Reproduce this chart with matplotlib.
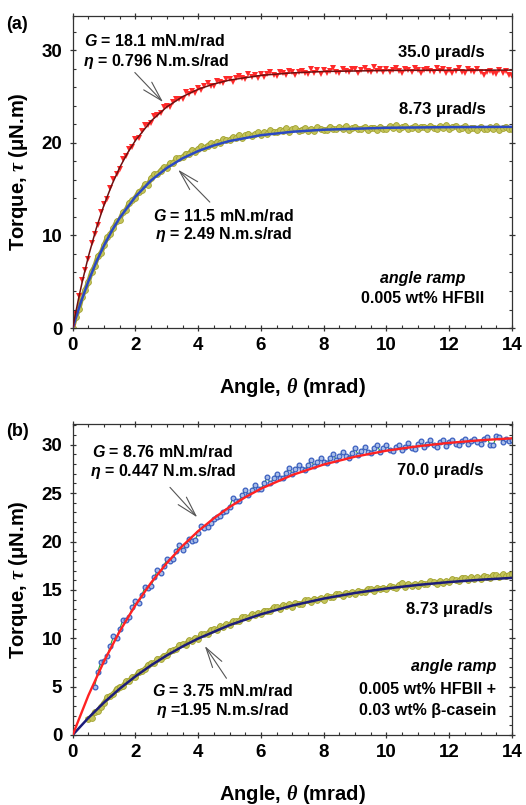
import numpy as np
import matplotlib
matplotlib.use("Agg")
import matplotlib.pyplot as plt
from matplotlib.ticker import MultipleLocator

plt.rcParams['font.family'] = ['Liberation Sans', 'DejaVu Sans']
plt.rcParams['font.weight'] = 'bold'
plt.rcParams['axes.labelweight'] = 'bold'
plt.rcParams['mathtext.fontset'] = 'custom'
plt.rcParams['mathtext.rm'] = 'Liberation Sans:bold'
plt.rcParams['mathtext.it'] = 'Liberation Sans:bold:italic'
plt.rcParams['mathtext.sf'] = 'Liberation Serif:italic'

# ---- panel (a): 0.005 wt% HFBII ----
# angle grid (mrad), one reading every 0.1 mrad
theta_a = np.arange(141) * 0.1

red_a = [0.10, 1.55, 3.44, 5.23, 6.27, 7.48, 9.20, 10.18, 11.14, 12.58,
         13.41, 13.93, 15.13, 16.09, 16.59, 17.15, 18.31, 18.53, 19.36, 19.50,
         20.41, 20.54, 21.24, 21.91, 21.90, 22.12, 22.91, 23.04, 23.19, 23.88,
         23.99, 23.84, 24.42, 24.79, 24.75, 24.79, 25.47, 25.24, 25.65, 25.40,
         25.94, 25.72, 26.09, 26.45, 26.16, 26.11, 26.66, 26.54, 26.48, 26.95,
         26.88, 26.55, 26.96, 27.17, 26.97, 26.88, 27.43, 27.07, 27.37, 27.01,
         27.44, 27.13, 27.41, 27.69, 27.32, 27.20, 27.68, 27.50, 27.37, 27.80,
         27.66, 27.28, 27.65, 27.81, 27.58, 27.44, 27.95, 27.56, 27.82, 27.43,
         27.85, 27.55, 27.80, 28.05, 27.65, 27.50, 27.95, 27.75, 27.60, 28.00,
         27.95, 27.55, 27.90, 28.05, 27.80, 27.65, 28.15, 27.75, 28.00, 27.60,
         27.97, 27.62, 27.87, 28.12, 27.72, 27.57, 28.02, 27.82, 27.67, 28.07,
         27.92, 27.52, 27.87, 28.02, 27.77, 27.62, 28.12, 27.72, 27.97, 27.57,
         27.90, 27.55, 27.80, 28.05, 27.65, 27.50, 27.95, 27.75, 27.60, 28.00,
         27.70, 27.30, 27.65, 27.80, 27.55, 27.40, 27.90, 27.50, 27.75, 27.35, 27.20]

olive_a = [0.00, 1.22, 2.03, 3.39, 4.14, 4.95, 6.06, 6.67, 7.75, 8.08,
           8.98, 9.79, 10.11, 10.81, 11.52, 11.70, 12.51, 12.74, 13.54, 13.78,
           14.09, 14.73, 14.89, 15.54, 15.48, 16.19, 16.64, 16.62, 16.99, 17.40,
           17.29, 17.82, 17.79, 18.34, 18.34, 18.42, 18.85, 18.82, 19.27, 19.02,
           19.37, 19.65, 19.48, 19.70, 19.97, 19.73, 20.13, 19.98, 20.42, 20.31,
           20.29, 20.62, 20.50, 20.87, 20.54, 20.80, 21.01, 20.77, 20.93, 21.13,
           20.83, 21.17, 20.97, 21.36, 21.20, 21.14, 21.43, 21.26, 21.59, 21.22,
           21.45, 21.58, 21.30, 21.43, 21.60, 21.27, 21.54, 21.31, 21.68, 21.50,
           21.42, 21.40, 21.75, 21.55, 21.45, 21.70, 21.50, 21.80, 21.40, 21.60,
           21.75, 21.45, 21.55, 21.70, 21.35, 21.65, 21.65, 21.40, 21.75, 21.55,
           21.45, 21.80, 21.60, 21.90, 21.50, 21.70, 21.85, 21.55, 21.65, 21.80,
           21.45, 21.75, 21.75, 21.50, 21.85, 21.65, 21.55, 21.80, 21.60, 21.90,
           21.50, 21.70, 21.85, 21.55, 21.65, 21.80, 21.35, 21.65, 21.65, 21.40,
           21.75, 21.55, 21.45, 21.70, 21.50, 21.80, 21.40, 21.60, 21.75, 21.45, 21.45]

# Maxwell fits
fit_a_red_x = [0, 0.1, 0.2, 0.3, 0.5, 0.75, 1.0, 1.25, 1.5, 1.75, 2.0, 2.5, 3.0,
               3.5, 4.0, 4.5, 5.0, 6.0, 7.0, 8.0, 10.0, 12.0, 14.0]
fit_a_red_y = [0, 1.75, 3.39, 4.93, 7.73, 10.75, 13.31, 15.49, 17.35, 18.92, 20.26,
               22.37, 23.89, 24.99, 25.79, 26.36, 26.78, 27.29, 27.56, 27.71, 27.82,
               27.85, 27.86]
fit_a_blue_x = [0, 0.25, 0.5, 0.75, 1.0, 1.25, 1.5, 2.0, 2.5, 3.0, 3.5, 4.0, 4.5,
                5.0, 6.0, 7.0, 8.0, 10.0, 12.0, 14.0]
fit_a_blue_y = [0, 2.69, 5.05, 7.12, 8.93, 10.52, 11.91, 14.19, 15.95, 17.29, 18.33,
                19.12, 19.73, 20.20, 20.83, 21.20, 21.42, 21.63, 21.70, 21.73]

# ---- panel (b): HFBII + beta-casein ----
theta_b_blue = 0.7 + np.arange(134) * 0.1
blue_b = [5.00, 6.53, 7.57, 7.69, 8.14, 9.23, 10.20, 10.05, 10.98, 11.90,
          11.90, 12.24, 13.21, 13.87, 13.61, 14.44, 15.26, 15.16, 15.40, 16.28,
          17.05, 16.70, 17.45, 18.18, 18.00, 18.17, 18.97, 19.66, 19.10, 19.62,
          20.29, 20.04, 20.14, 20.88, 21.60, 21.35, 21.45, 21.90, 22.30, 22.50,
          22.60, 23.00, 23.20, 23.60, 24.49, 24.14, 24.14, 24.79, 25.33, 24.77,
          25.29, 25.82, 25.44, 25.41, 26.02, 26.62, 26.03, 26.52, 27.02, 26.61,
          26.54, 27.13, 27.61, 26.98, 27.45, 27.92, 27.48, 27.40, 27.96, 28.41,
          27.77, 28.22, 28.66, 28.21, 28.10, 28.64, 29.08, 28.41, 28.84, 29.27,
          28.80, 28.68, 29.20, 29.62, 28.94, 29.36, 29.77, 29.29, 29.15, 29.66,
          29.97, 29.28, 29.68, 29.99, 29.49, 29.34, 29.73, 29.95, 29.43, 29.82,
          30.22, 29.71, 29.55, 30.05, 30.44, 29.72, 30.11, 30.50, 29.98, 29.81,
          30.30, 30.45, 29.86, 30.25, 30.45, 30.10, 29.93, 30.41, 30.55, 30.06,
          30.43, 30.60, 30.29, 30.12, 30.59, 30.85, 29.93, 29.95, 30.87, 30.79,
          30.26, 30.58, 30.35, 30.47]

theta_b_olive = 0.5 + np.arange(136) * 0.1
olive_b = [1.67, 1.79, 2.38, 2.50, 2.94, 3.31, 3.88, 4.05, 4.24, 4.80,
           4.99, 5.03, 5.57, 5.62, 6.00, 6.01, 6.52, 6.64, 6.77, 7.27,
           7.41, 7.40, 7.88, 7.88, 8.21, 8.23, 8.69, 8.76, 8.84, 9.30,
           9.40, 9.35, 9.79, 9.75, 10.04, 9.97, 10.39, 10.42, 10.47, 10.89,
           10.95, 10.87, 11.27, 11.21, 11.46, 11.36, 11.75, 11.76, 11.77, 12.17,
           12.20, 12.09, 12.47, 12.37, 12.61, 12.48, 12.85, 12.82, 12.82, 13.19,
           13.20, 13.07, 13.43, 13.31, 13.53, 13.28, 13.63, 13.58, 13.56, 13.91,
           13.91, 13.76, 14.10, 13.97, 14.16, 14.00, 14.33, 14.27, 14.23, 14.57,
           14.55, 14.39, 14.71, 14.57, 14.75, 14.58, 14.90, 14.83, 14.78, 15.10,
           15.07, 14.90, 15.21, 15.05, 15.23, 15.04, 15.35, 15.27, 15.21, 15.53,
           15.73, 15.30, 15.61, 15.44, 15.61, 15.41, 15.71, 15.63, 15.56, 15.87,
           15.82, 15.63, 15.93, 15.76, 15.91, 15.81, 16.11, 16.01, 15.94, 16.24,
           16.24, 16.04, 16.33, 16.16, 16.31, 16.15, 16.44, 16.34, 16.26, 16.56,
           16.50, 16.30, 16.59, 16.40, 16.55, 16.59]

fit_b_red_x = [0, 0.5, 1, 1.5, 2, 2.5, 3, 3.5, 4, 4.5, 5, 5.5, 6, 7, 8, 9, 10, 11,
               12, 13, 14]
fit_b_red_y = [0, 4.09, 7.64, 10.73, 13.42, 15.75, 17.78, 19.55, 21.08, 22.41, 23.57,
               24.58, 25.46, 26.88, 27.96, 28.77, 29.39, 29.85, 30.20, 30.47, 30.67]
fit_b_blue_x = [0, 0.5, 1, 1.5, 2, 2.5, 3, 3.5, 4, 5, 6, 7, 8, 9, 10, 11, 12, 13, 14]
fit_b_blue_y = [0, 1.77, 3.36, 4.79, 6.06, 7.21, 8.23, 9.15, 9.97, 11.36, 12.48,
                13.38, 14.10, 14.68, 15.14, 15.51, 15.81, 16.05, 16.24]

OLIVE = '#a3a332'
OLIVE_FILL = '#c4c45a'
ARROW_KW = dict(arrowstyle='->,head_length=1.45,head_width=0.4', color='#555555',
                lw=0.8, mutation_scale=10, shrinkA=0, shrinkB=0)

fig = plt.figure(figsize=(5.26, 8.05), dpi=100)
ax_a = fig.add_axes([0.1382, 0.5925, 0.8352, 0.3876])
ax_b = fig.add_axes([0.1382, 0.0870, 0.8352, 0.3863])


def style_axes(ax, ymax, ymajor, yminor, xlab_y):
    ax.set_xlim(0, 14)
    ax.set_ylim(0, ymax)
    ax.xaxis.set_major_locator(MultipleLocator(2))
    ax.xaxis.set_minor_locator(MultipleLocator(0.5))
    ax.yaxis.set_major_locator(MultipleLocator(ymajor))
    ax.yaxis.set_minor_locator(MultipleLocator(yminor))
    ax.tick_params(which='major', direction='inout', length=5, width=0.9,
                   top=True, right=True, labelsize=13.5, color='#333333')
    ax.tick_params(which='minor', direction='in', length=2.5, width=0.8,
                   top=True, right=True, color='#333333')
    ax.tick_params(axis='x', which='major', pad=4)
    ax.tick_params(axis='y', which='major', pad=5)
    for lab in ax.get_xticklabels() + ax.get_yticklabels():
        lab.set_fontweight('bold')
    for sp in ax.spines.values():
        sp.set_color('#333333')
        sp.set_linewidth(0.9)
    ax.set_xlabel(r'Angle, $\mathsf{θ}$ (mrad)', fontsize=14.5, fontweight='bold', va='center')
    ax.set_ylabel(r'Torque, $\mathsf{τ}$ (μN.m)', fontsize=14.5, fontweight='bold', va='center')
    ax.xaxis.set_label_coords(0.5, xlab_y)
    ax.yaxis.set_label_coords(-0.124, 0.5)


# panel (a)
ax_a.plot(theta_a, olive_a, '-', color=OLIVE, lw=3.4, zorder=2)
ax_a.plot(theta_a, olive_a, 'o', ms=4.2, mfc=OLIVE_FILL, mec=OLIVE, mew=0.6, zorder=2)
ax_a.plot(fit_a_blue_x, fit_a_blue_y, '-', color='#2a48c4', lw=1.8, zorder=3)
ax_a.plot(theta_a, red_a, 'v', ms=3.8, color='#ff2a2a', mew=0, zorder=2)
ax_a.plot(fit_a_red_x, fit_a_red_y, '-', color='#6e1010', lw=1.1, zorder=3)
style_axes(ax_a, 33.7, 10, 2, -0.189)

ax_a.text(2.6, 30.95, r'$\mathit{G}$ = 18.1 mN.m/rad', ha='center', va='center', fontsize=11.5)
ax_a.text(2.65, 28.8, r'$\mathit{η}$ = 0.796 N.m.s/rad', ha='center', va='center', fontsize=11.5)
ax_a.text(11.75, 29.8, '35.0 μrad/s', ha='center', va='center', fontsize=12)
ax_a.text(11.78, 23.57, '8.73 μrad/s', ha='center', va='center', fontsize=12)
ax_a.text(4.82, 12.1, r'$\mathit{G}$ = 11.5 mN.m/rad', ha='center', va='center', fontsize=11.5)
ax_a.text(4.82, 10.05, r'$\mathit{η}$ = 2.49 N.m.s/rad', ha='center', va='center', fontsize=11.5)
ax_a.text(11.14, 5.4, 'angle ramp', ha='center', va='center', fontsize=11.5, style='italic')
ax_a.text(11.14, 3.24, '0.005 wt% HFBII', ha='center', va='center', fontsize=11.5)
ax_a.annotate('', xy=(2.88, 24.4), xytext=(1.98, 27.6), arrowprops=ARROW_KW)
ax_a.annotate('', xy=(3.36, 17.1), xytext=(4.37, 13.6), arrowprops=ARROW_KW)

# panel (b)
ax_b.plot(theta_b_olive, olive_b, '-', color=OLIVE, lw=3.4, zorder=2)
ax_b.plot(theta_b_olive, olive_b, 'o', ms=4.2, mfc=OLIVE_FILL, mec=OLIVE, mew=0.6, zorder=2)
ax_b.plot(fit_b_blue_x, fit_b_blue_y, '-', color='#1c1c7a', lw=1.8, zorder=3)
ax_b.plot(theta_b_blue, blue_b, '-', color='#2ca02c', lw=0.8, zorder=2)
ax_b.plot(theta_b_blue, blue_b, 'o', ms=3.4, mfc='#a9bde8', mec='#3a5fc0', mew=0.9, zorder=2)
ax_b.plot(fit_b_red_x, fit_b_red_y, '-', color='#ff2222', lw=1.7, zorder=3)
style_axes(ax_b, 32.15, 5, 1, -0.193)

ax_b.text(2.86, 29.24, r'$\mathit{G}$ = 8.76 mN.m/rad', ha='center', va='center', fontsize=11.5)
ax_b.text(2.89, 27.23, r'$\mathit{η}$ = 0.447 N.m.s/rad', ha='center', va='center', fontsize=11.5)
ax_b.text(11.70, 27.33, '70.0 μrad/s', ha='center', va='center', fontsize=12)
ax_b.text(11.99, 13.0, '8.73 μrad/s', ha='center', va='center', fontsize=12)
ax_b.text(4.77, 4.55, r'$\mathit{G}$ = 3.75 mN.m/rad', ha='center', va='center', fontsize=11.5)
ax_b.text(4.77, 2.51, r'$\mathit{η}$ =1.95 N.m.s/rad', ha='center', va='center', fontsize=11.5)
ax_b.text(13.5, 7.06, 'angle ramp', ha='right', va='center', fontsize=11.5, style='italic')
ax_b.text(13.5, 4.72, '0.005 wt% HFBII +', ha='right', va='center', fontsize=11.5)
ax_b.text(13.5, 2.58, '0.03 wt% β-casein', ha='right', va='center', fontsize=11.5)
ax_b.annotate('', xy=(3.97, 22.5), xytext=(3.10, 25.6), arrowprops=ARROW_KW)
ax_b.annotate('', xy=(4.21, 9.2), xytext=(4.90, 5.86), arrowprops=ARROW_KW)

fig.text(0.012, 0.970, '(a)', fontsize=13, va='center', ha='left')
fig.text(0.012, 0.464, '(b)', fontsize=13, va='center', ha='left')

fig.savefig('out.png', dpi=100)
